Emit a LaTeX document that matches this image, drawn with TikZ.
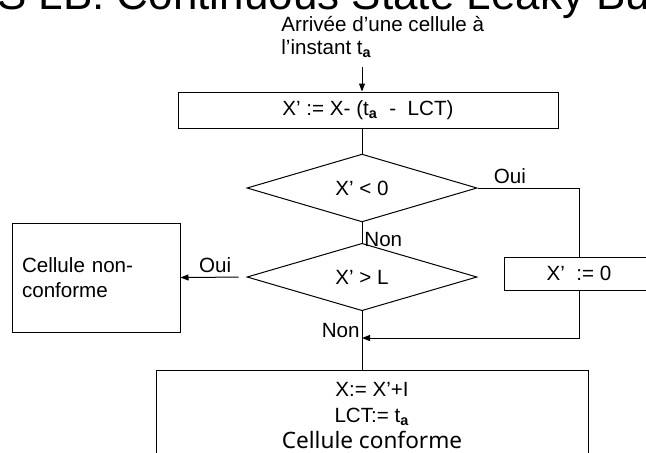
\documentclass[tikz,border=0pt]{standalone}
\usepackage{fontspec}
\setmainfont{Liberation Sans}
\newfontfamily\handfont{Noto Sans}
\usetikzlibrary{shapes.geometric, arrows.meta, positioning, calc}

\begin{document}
\begin{tikzpicture}[
  x=0.5pt, y=-0.5pt,
  box/.style={draw, line width=0.5pt, inner sep=0pt, font=\fontsize{10.3}{11}\selectfont},
  decision/.style={draw, diamond, line width=0.5pt, minimum width=115pt, minimum height=27pt, inner sep=0pt, font=\fontsize{10.3}{11}\selectfont},
  lbl/.style={inner sep=1pt, font=\fontsize{10.3}{11}\selectfont},
  arr/.style={-{Triangle[length=4pt,width=3pt]}, line width=0.5pt}
]
\useasboundingbox (0,0) rectangle (646,452);
\clip (0,0) rectangle (646,452);

\node[anchor=base west, inner sep=0pt, font=\fontsize{22}{26}\selectfont] (title) at (-35,9) {CS LB: Continuous State Leaky Bucket};
\node[anchor=north west, inner sep=0pt, align=left, font=\fontsize{10.3}{11.5}\selectfont] (arrv) at (281,16) {Arrivée d’une cellule à\\l’instant t\textsubscript{\textbf{a}}};
\coordinate (inp) at (362,67);

\node[box, minimum width=190pt, minimum height=18pt] (upd) at (368,110) {X’ := X- (t\textsubscript{\textbf{a}}\ \ -\ \ LCT)};
\node[decision] (neg) at (362,188) {X’ < 0};
\node[decision] (over) at (362,277) {X’ > L};
\node[box, minimum width=75pt, minimum height=16.5pt] (reset) at (579,273.5) {X’\ \ := 0};
\node[box, minimum width=84pt, minimum height=54.5pt, text width=74pt, align=left, font=\fontsize{10.3}{12.5}\selectfont] (rej) at (96,277.5) {Cellule non-\\conforme};
\node[box, minimum width=216pt, minimum height=46pt, align=center, font=\fontsize{10.3}{13}\selectfont] (acc) at (372,416) {X:= X’+I\\LCT:= t\textsubscript{\textbf{a}}\\{\handfont\fontsize{11.3}{13}\selectfont Cellule conforme}};
\coordinate (jn) at (362,338);

% connectors
\draw[arr] (inp) -- (inp |- upd.north);
\draw[line width=0.5pt] (neg.north |- upd.south) -- (neg.north);
\draw[line width=0.5pt] (neg.south) -- (over.north);
\draw[line width=0.5pt] (neg.east) -| (reset.north);
\draw[arr] (reset.south) |- (jn);
\draw[arr, shorten <=4pt] (over.west) -- (rej.east);
\draw[line width=0.5pt] (over.south) -- (over.south |- acc.north);

% labels
\node[lbl, anchor=south west] (ouiR) at ([xshift=7pt,yshift=1pt]neg.east) {Oui};
\node[lbl, anchor=north west] (nonA) at ([yshift=-3.5pt]neg.south) {Non};
\node[lbl, anchor=south east] (ouiL) at ([xshift=-6.5pt,yshift=1pt]over.west) {Oui};
\node[lbl, anchor=south east] (nonB) at ([yshift=-14.5pt]over.south) {Non};
\end{tikzpicture}
\end{document}
